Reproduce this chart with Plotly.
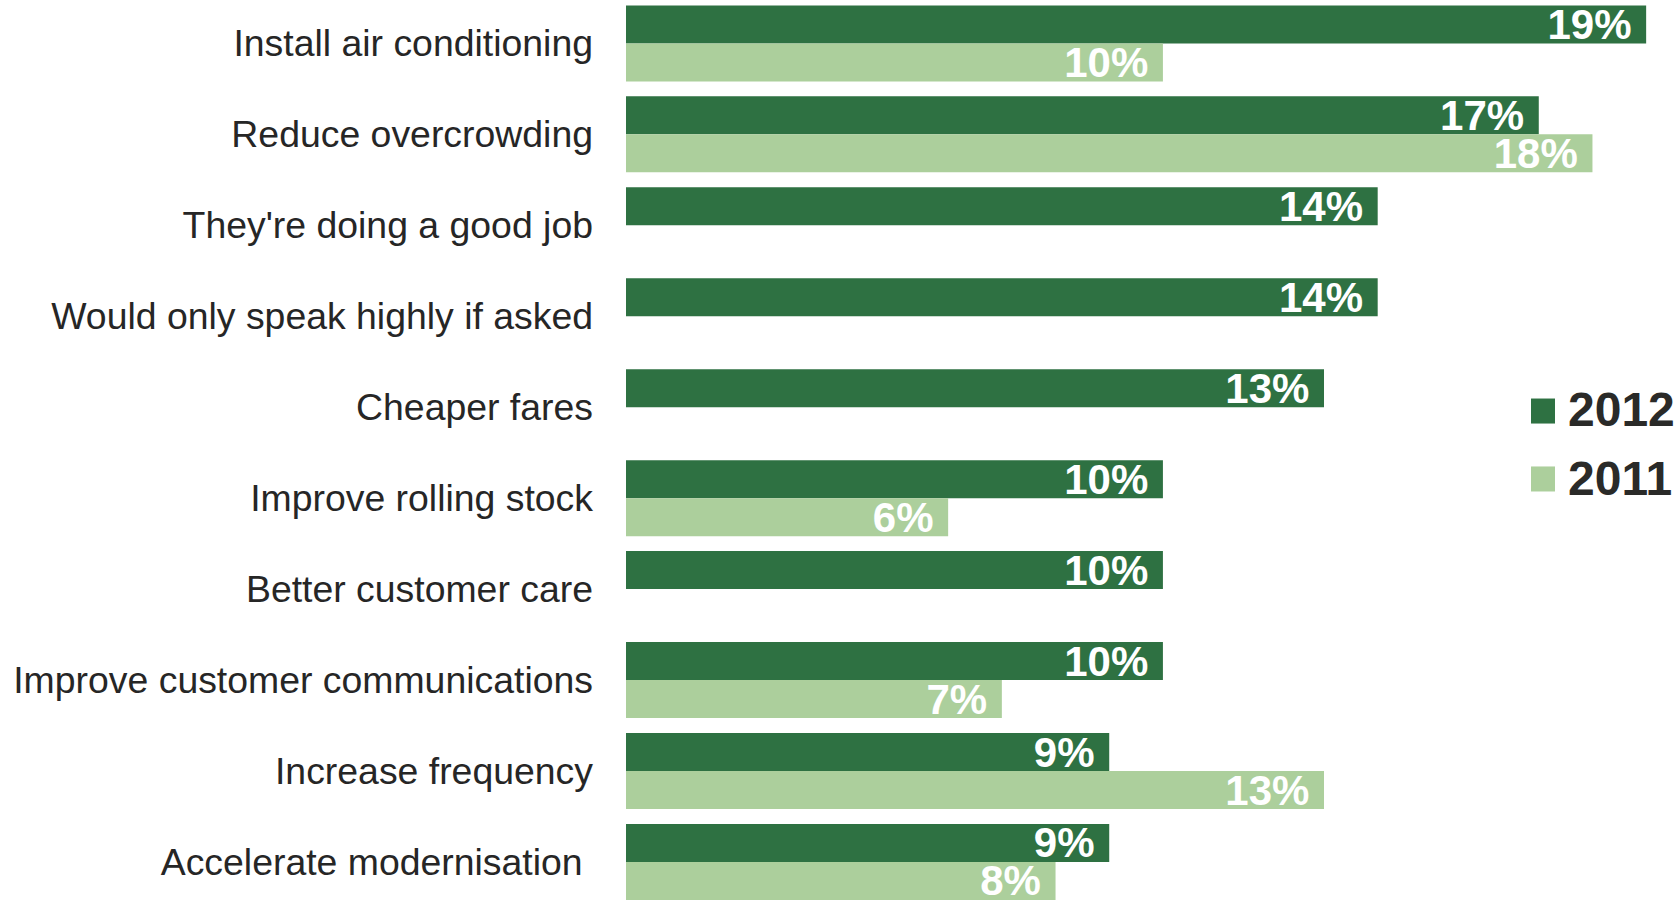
import plotly.graph_objects as go

# Survey responses: suggested improvements, share of respondents (%)
categories = [
    "Install air conditioning",
    "Reduce overcrowding",
    "They're doing a good job",
    "Would only speak highly if asked",
    "Cheaper fares",
    "Improve rolling stock",
    "Better customer care",
    "Improve customer communications",
    "Increase frequency",
    "Accelerate modernisation\u00a0",
]
values_2012 = [19, 17, 14, 14, 13, 10, 10, 10, 9, 9]
values_2011 = [10, 18, None, None, None, 6, None, 7, 13, 8]
series_names = ["2012", "2011"]

DARK_GREEN = "#2E7142"
LIGHT_GREEN = "#ACCF9C"
TEXT_DARK = "#262626"
positions = list(range(len(categories)))

bar_text_font = dict(family="Liberation Sans, Arial, sans-serif", size=42, color="white")

fig = go.Figure()
for name, vals, colour in [
    (series_names[0], values_2012, DARK_GREEN),
    (series_names[1], values_2011, LIGHT_GREEN),
]:
    fig.add_trace(go.Bar(
        name=name,
        y=positions,
        x=vals,
        orientation="h",
        marker=dict(color=colour, line=dict(width=0)),
        texttemplate="<b>%{x}%</b>\u00a0",
        textposition="inside",
        insidetextanchor="end",
        constraintext="none",
        textfont=bar_text_font,
        showlegend=False,
        hoverinfo="skip",
    ))

# Legend drawn as coloured squares with bold year labels
legend_rows = [(series_names[0], DARK_GREEN, 0.5433, 0.5455), (series_names[1], LIGHT_GREEN, 0.4678, 0.4678)]
for name, colour, yc, ytext in legend_rows:
    fig.add_shape(
        type="rect", xref="paper", yref="paper",
        x0=0.8644, x1=0.8873, y0=yc - 0.0139, y1=yc + 0.0139,
        fillcolor=colour, line=dict(width=0),
    )
    fig.add_annotation(
        xref="paper", yref="paper", x=0.8975, y=ytext,
        xanchor="left", yanchor="middle", showarrow=False,
        text=f"<b>{name}</b>",
        font=dict(family="Liberation Sans, Arial, sans-serif", size=48, color="#2A2A28"),
    )

fig.update_layout(
    width=1680,
    height=900,
    margin=dict(l=626, r=7, t=0, b=0, pad=0),
    plot_bgcolor="white",
    paper_bgcolor="white",
    barmode="group",
    bargap=0.1645,
    bargroupgap=0,
    xaxis=dict(
        range=[0, 19.5],
        visible=False,
        showgrid=False,
        zeroline=False,
    ),
    yaxis=dict(
        range=[9.418, -0.477],
        tickmode="array",
        tickvals=positions,
        ticktext=categories,
        ticks="",
        ticklabelstandoff=32,
        showgrid=False,
        zeroline=False,
        showline=False,
        tickfont=dict(family="Liberation Sans, Arial, sans-serif", size=37.4, color=TEXT_DARK),
    ),
)

fig.write_html("out.html")
